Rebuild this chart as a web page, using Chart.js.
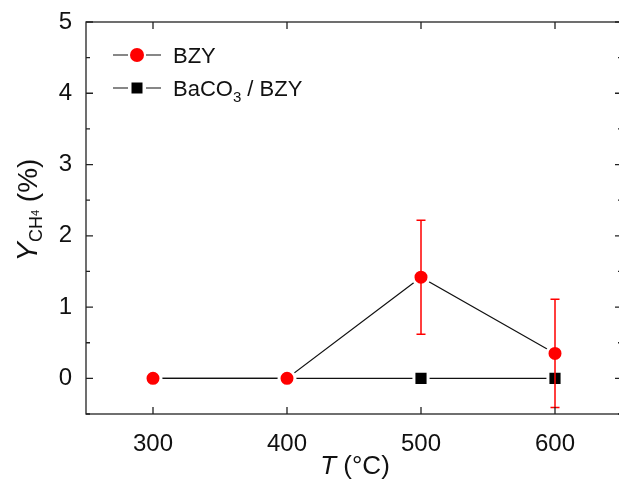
<!DOCTYPE html>
<html>
<head>
<meta charset="utf-8">
<script src="https://cdn.jsdelivr.net/npm/chart.js@4"></script>
<style>
  html, body { margin: 0; padding: 0; background: #fff; overflow: hidden; }
  #wrap { width: 619px; height: 489px; }
</style>
</head>
<body>
<div id="wrap"><canvas id="chart"></canvas></div>
<script>
// temperatures (°C)
const temps = [300, 400, 500, 600];
// CH4 yield (%)
const bzyYield = [0, 0, 1.42, 0.35];
const bzyErr = [0, 0, 0.80, 0.76];
const bacoYield = [0, 0, 0, 0];
const xTicks = [300, 400, 500, 600];
const yTicks = [0, 1, 2, 3, 4, 5];
const yMinorTicks = [-0.5, 0.5, 1.5, 2.5, 3.5, 4.5];

const FONT = '"Liberation Sans", Arial, Helvetica, sans-serif';
const AXIS = '#222';
const PLOT_RIGHT = 622; // right spine sits just past the canvas edge in the original

// error bars + frame + titles + legend
const decor = {
    id: 'decor',
    afterLayout(chart) {
        const a = chart.chartArea;
        a.right = PLOT_RIGHT;
        a.width = a.right - a.left;
        const xs = chart.scales.x;
        xs.right = PLOT_RIGHT;
        xs.width = xs.right - xs.left;
        xs.configure();
    },
    afterDatasetsDraw(chart) {
        const ctx = chart.ctx;
        const xs = chart.scales.x, ys = chart.scales.y;
        ctx.save();
        ctx.strokeStyle = '#ff0000';
        ctx.lineWidth = 1.5;
        temps.forEach((t, i) => {
            if (!bzyErr[i]) return;
            const x = xs.getPixelForValue(t);
            const y1 = ys.getPixelForValue(bzyYield[i] + bzyErr[i]);
            const y2 = ys.getPixelForValue(bzyYield[i] - bzyErr[i]);
            ctx.beginPath();
            ctx.moveTo(x, y1); ctx.lineTo(x, y2);
            ctx.moveTo(x - 4.5, y1); ctx.lineTo(x + 4.5, y1);
            ctx.moveTo(x - 4.5, y2); ctx.lineTo(x + 4.5, y2);
            ctx.stroke();
        });
        ctx.restore();
    },
    afterDraw(chart) {
        const ctx = chart.ctx;
        const a = chart.chartArea;
        const xs = chart.scales.x, ys = chart.scales.y;
        ctx.save();
        ctx.strokeStyle = AXIS;
        ctx.lineWidth = 1.3;
        ctx.strokeRect(a.left, a.top, a.right - a.left, a.bottom - a.top);
        ctx.beginPath();
        xTicks.forEach(v => {
            const x = xs.getPixelForValue(v);
            ctx.moveTo(x, a.bottom); ctx.lineTo(x, a.bottom - 7);
            ctx.moveTo(x, a.top); ctx.lineTo(x, a.top + 7);
        });
        yTicks.forEach(v => {
            const y = ys.getPixelForValue(v);
            ctx.moveTo(a.left, y); ctx.lineTo(a.left + 7, y);
            ctx.moveTo(a.right, y); ctx.lineTo(a.right - 7, y);
        });
        yMinorTicks.forEach(v => {
            const y = ys.getPixelForValue(v);
            ctx.moveTo(a.left, y); ctx.lineTo(a.left + 4, y);
            ctx.moveTo(a.right, y); ctx.lineTo(a.right - 4, y);
        });
        ctx.stroke();

        // x title
        ctx.fillStyle = '#111';
        ctx.textBaseline = 'alphabetic';
        ctx.textAlign = 'left';
        ctx.font = 'italic 26px ' + FONT;
        const wT = ctx.measureText('T').width;
        ctx.font = '26px ' + FONT;
        const wR = ctx.measureText(' (°C)').width;
        let x0 = 355 - (wT + wR) / 2;
        ctx.font = 'italic 26px ' + FONT;
        ctx.fillText('T', x0, 474);
        ctx.font = '26px ' + FONT;
        ctx.fillText(' (°C)', x0 + wT, 474);

        // y title
        ctx.save();
        ctx.translate(37, 210);
        ctx.rotate(-Math.PI / 2);
        const parts = [
            ['italic 29px ' + FONT, 'Y', 0],
            ['18px ' + FONT, 'CH', 5],
            ['11px ' + FONT, '4', 2],
            ['28px ' + FONT, ' (%)', 0]
        ];
        let total = 0;
        parts.forEach(p => { ctx.font = p[0]; total += ctx.measureText(p[1]).width; });
        let cx = -total / 2;
        parts.forEach(p => {
            ctx.font = p[0];
            ctx.fillText(p[1], cx, p[2]);
            cx += ctx.measureText(p[1]).width;
        });
        ctx.restore();

        // legend
        const rows = [
            { y: 55, color: '#ff0000', style: 'circle', r: 7, text: [['BZY', 0]] },
            { y: 88, color: '#000', style: 'rect', r: 5.5, text: [['BaCO', 0], ['3', 6], [' / BZY', 0]] }
        ];
        rows.forEach(row => {
            ctx.strokeStyle = '#111';
            ctx.lineWidth = 1.2;
            ctx.beginPath();
            ctx.moveTo(113, row.y); ctx.lineTo(128, row.y);
            ctx.moveTo(146, row.y); ctx.lineTo(161, row.y);
            ctx.stroke();
            ctx.fillStyle = row.color;
            ctx.beginPath();
            if (row.style === 'circle') ctx.arc(137, row.y, row.r, 0, Math.PI * 2);
            else ctx.rect(137 - row.r, row.y - row.r, row.r * 2, row.r * 2);
            ctx.fill();
            ctx.fillStyle = '#111';
            let tx = 173;
            row.text.forEach(t => {
                ctx.font = (t[1] ? '15px ' : '22px ') + FONT;
                ctx.fillText(t[0], tx, row.y + 8 + t[1]);
                tx += ctx.measureText(t[0]).width;
            });
        });
        ctx.restore();
    }
};

new Chart(document.getElementById('chart'), {
    type: 'scatter',
    data: {
        datasets: [
            {
                label: 'BZY',
                data: temps.map((t, i) => ({ x: t, y: bzyYield[i] })),
                showLine: true,
                borderColor: '#111',
                borderWidth: 1.2,
                pointStyle: 'circle',
                pointRadius: 8,
                pointBackgroundColor: '#ff0000',
                pointBorderColor: '#fff',
                pointBorderWidth: 3
            },
            {
                label: 'BaCO3 / BZY',
                data: temps.map((t, i) => ({ x: t, y: bacoYield[i] })),
                showLine: true,
                borderColor: '#111',
                borderWidth: 1.2,
                pointStyle: 'rect',
                pointRadius: 10,
                pointBackgroundColor: '#000',
                pointBorderColor: '#fff',
                pointBorderWidth: 3
            }
        ]
    },
    options: {
        responsive: true,
        maintainAspectRatio: false,
        animation: false,
        layout: { padding: { top: 22, right: 1, left: 0, bottom: 0 } },
        plugins: { legend: { display: false }, tooltip: { enabled: false } },
        scales: {
            x: {
                type: 'linear',
                min: 250,
                max: 650,
                afterBuildTicks: s => { s.ticks = xTicks.map(v => ({ value: v })); },
                afterFit: s => { s.height = 75; },
                grid: { display: false },
                border: { display: false },
                ticks: { color: '#111', font: { family: FONT, size: 24 }, padding: 8, maxRotation: 0 }
            },
            y: {
                min: -0.5,
                max: 5,
                afterBuildTicks: s => { s.ticks = yTicks.map(v => ({ value: v })); },
                afterFit: s => { s.width = 86; },
                grid: { display: false },
                border: { display: false },
                ticks: { color: '#111', font: { family: FONT, size: 24 }, padding: 6 }
            }
        }
    },
    plugins: [decor]
});
</script>
</body>
</html>
